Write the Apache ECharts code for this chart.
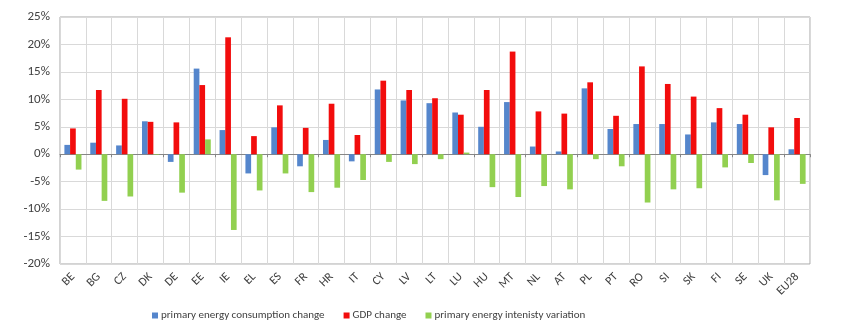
<!DOCTYPE html>
<html>
<head>
<meta charset="utf-8">
<script src="https://cdn.jsdelivr.net/npm/echarts@6/dist/echarts.min.js"></script>
<style>
  html, body { margin: 0; padding: 0; background: #ffffff; }
  #chart { width: 850px; height: 332px; }
</style>
</head>
<body>
<div id="chart"></div>
<script>
// Country codes along the category axis
const countries = ['BE','BG','CZ','DK','DE','EE','IE','EL','ES','FR','HR','IT','CY','LV','LT','LU','HU','MT','NL','AT','PL','PT','RO','SI','SK','FI','SE','UK','EU28'];

// Changes in percent
const energyConsumption = [1.7, 2.1, 1.6, 6.0, -1.4, 15.6, 4.4, -3.5, 4.9, -2.2, 2.6, -1.3, 11.8, 9.8, 9.3, 7.6, 5.0, 9.5, 1.4, 0.5, 12.0, 4.6, 5.5, 5.5, 3.6, 5.8, 5.5, -3.8, 0.9];
const gdpChange = [4.7, 11.7, 10.1, 5.9, 5.8, 12.6, 21.3, 3.3, 8.9, 4.8, 9.2, 3.5, 13.4, 11.7, 10.2, 7.2, 11.7, 18.7, 7.8, 7.4, 13.1, 7.0, 16.0, 12.8, 10.5, 8.4, 7.2, 4.9, 6.6];
const intensityVariation = [-2.8, -8.5, -7.7, -0.1, -7.0, 2.7, -13.8, -6.6, -3.5, -6.9, -6.1, -4.7, -1.4, -1.8, -0.9, 0.3, -6.0, -7.8, -5.8, -6.4, -0.9, -2.2, -8.8, -6.4, -6.2, -2.4, -1.6, -8.4, -5.4];

// Value axis ticks
const yTicks = [-20, -15, -10, -5, 0, 5, 10, 15, 20, 25];

const seriesNames = ['primary energy consumption change', 'GDP change', 'primary energy intenisty variation'];

const font = 'Carlito, "Liberation Sans Narrow", "Liberation Sans", sans-serif';

const chart = echarts.init(document.getElementById('chart'));

chart.setOption({
  animation: false,
  textStyle: { fontFamily: font },
  grid: {
    left: 60, right: 40, top: 17, bottom: 68,
    show: true, borderColor: '#a6a6a6', borderWidth: 1
  },
  legend: {
    data: seriesNames,
    left: 147, top: 305,
    itemWidth: 6, itemHeight: 6, itemGap: 19,
    icon: 'rect',
    textStyle: { fontFamily: font, fontSize: 11, color: '#404040', padding: [0, 0, 0, -2] }
  },
  xAxis: [
    {
      type: 'category',
      data: countries,
      position: 'bottom',
      axisLine: { show: false, onZero: false },
      axisTick: { show: false },
      splitLine: { show: true, lineStyle: { color: '#d9d9d9', width: 1 } },
      axisLabel: { rotate: 45, fontSize: 12, color: '#404040', fontFamily: font, margin: 11, interval: 0 }
    },
    {
      type: 'category',
      data: countries,
      position: 'bottom',
      axisLine: { show: true, onZero: true, lineStyle: { color: '#868686', width: 1 } },
      axisTick: { show: true, length: 3, lineStyle: { color: '#868686' } },
      axisLabel: { show: false },
      splitLine: { show: false }
    }
  ],
  yAxis: {
    type: 'value',
    min: yTicks[0],
    max: yTicks[yTicks.length - 1],
    interval: 5,
    axisLine: { show: false },
    axisTick: { show: false },
    splitLine: { show: true, lineStyle: { color: '#d9d9d9', width: 1 } },
    axisLabel: {
      formatter: v => v + '%',
      fontSize: 13, color: '#404040', fontFamily: font, margin: 10
    }
  },
  series: [
    {
      name: seriesNames[0], type: 'bar', data: energyConsumption,
      itemStyle: { color: '#5586cc' },
      barGap: '0%', barCategoryGap: '34%'
    },
    {
      name: seriesNames[1], type: 'bar', data: gdpChange,
      itemStyle: { color: '#f20d0d' },
      barGap: '0%', barCategoryGap: '34%'
    },
    {
      name: seriesNames[2], type: 'bar', data: intensityVariation,
      itemStyle: { color: '#92d050' },
      barGap: '0%', barCategoryGap: '34%'
    }
  ]
});
</script>
</body>
</html>
